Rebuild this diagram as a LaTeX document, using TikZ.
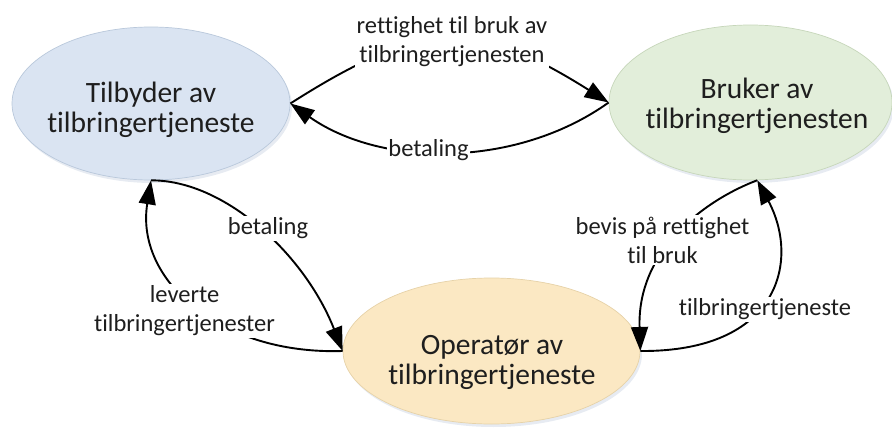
\documentclass[tikz,border=0pt]{standalone}
\usepackage{fontspec}
\setmainfont{Carlito}[Ligatures=NoCommon]
\usetikzlibrary{arrows.meta,shapes.geometric,shadows}

\definecolor{provfill}{HTML}{DAE4F2}
\definecolor{provline}{HTML}{B9C8DB}
\definecolor{userfill}{HTML}{E2EEDA}
\definecolor{userline}{HTML}{C6D6BA}
\definecolor{opfill}{HTML}{FBE8C3}
\definecolor{opline}{HTML}{E6D2A8}
\definecolor{shade}{HTML}{C9D3E2}
\definecolor{ink}{HTML}{1E1E1E}

\begin{document}
\begin{tikzpicture}[x=1pt,y=-1pt,
  party/.style={ellipse, inner sep=0pt, line width=0.7pt,
    drop shadow={fill=shade, opacity=0.45, shadow xshift=2pt, shadow yshift=-3pt}},
  partytext/.style={align=center, inner sep=0pt, text=ink,
    font=\fontsize{29.5}{30}\selectfont},
  flowlabel/.style={align=center, fill=white, inner sep=1.5pt, text=ink,
    font=\fontsize{24.5}{29}\selectfont},
  flow/.style={line width=1.9pt, draw=black,
    -{Triangle[length=24pt,width=17pt]}}]
\useasboundingbox (0,0) rectangle (892,428);

% the three parties
\node[party, fill=provfill, draw=provline, minimum width=278pt, minimum height=153pt]
  (prov) at (151,103.5) {};
\node[party, fill=userfill, draw=userline, minimum width=283pt, minimum height=155pt]
  (user) at (750.5,102.5) {};
\node[party, fill=opfill, draw=opline, minimum width=297pt, minimum height=146pt]
  (op) at (491.5,351) {};

\node[partytext] (prov-name) at (151,110) {Tilbyder av\\tilbringertjeneste};
\node[partytext] (user-name) at (757,106) {Bruker av\\tilbringertjenesten};
\node[partytext] (op-name) at (492,362) {Operatør av\\tilbringertjeneste};

% flows between the parties
\draw[flow] (prov.east) .. controls (423,19) and (476,19) .. (user.west);
\draw[flow] (user.west) .. controls (517,168) and (382,168) .. (prov.east);
\draw[flow] (prov.south) .. controls (225,180) and (305,255) .. (op.west);
\draw[flow] (op.west) .. controls (220,355) and (135,280) .. (prov.south);
\draw[flow] (user.-85) .. controls (705,200) and (637,250) .. (op.east);
\draw[flow] (op.east) .. controls (780,352) and (800,260) .. (user.-85);

% flow labels, set over the connectors
\node[flowlabel] (l-right) at (452,41.5) {rettighet til bruk av\\tilbringertjenesten};
\node[flowlabel] (l-pay1) at (428.5,150) {betaling};
\node[flowlabel] (l-pay2) at (268,228.5) {betaling};
\node[flowlabel] (l-deliv) at (184.5,311) {leverte\\tilbringertjenester};
\node[flowlabel] (l-proof) at (662.5,240) {bevis på rettighet\\til bruk};
\node[flowlabel] (l-serv) at (765,309.5) {tilbringertjeneste};
\end{tikzpicture}
\end{document}
